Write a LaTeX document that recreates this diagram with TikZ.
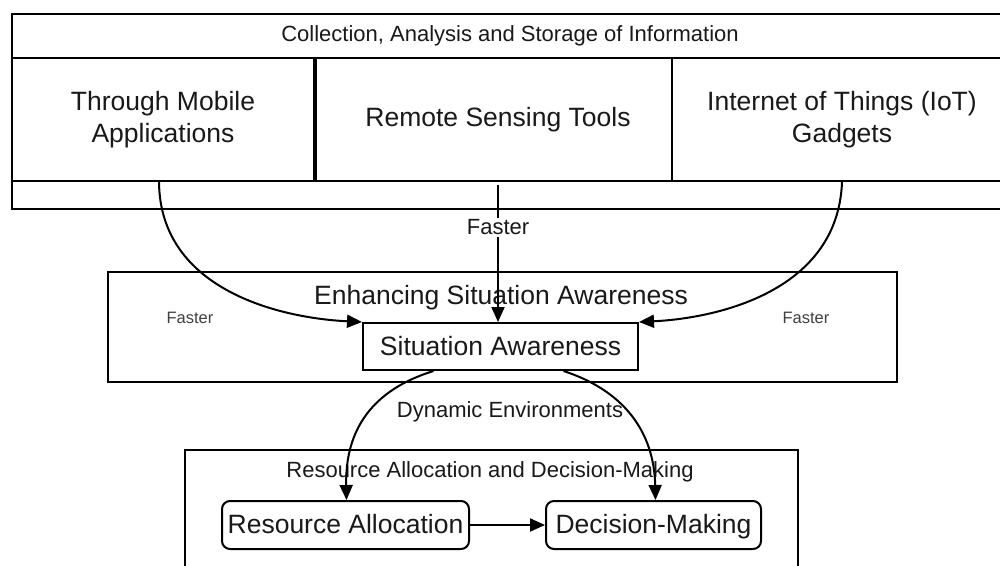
\documentclass[tikz,border=0pt]{standalone}
\usepackage{fontspec}
\setmainfont{Liberation Sans}
\usetikzlibrary{arrows.meta}
\begin{document}
\begin{tikzpicture}[x=1pt,y=-1pt,
  frame/.style={draw, line width=2pt, inner sep=0pt, anchor=north west},
  box/.style={frame, fill=white},
  roundbox/.style={frame, fill=white, rounded corners=8pt},
  big/.style={font=\fontsize{26.5}{32}\selectfont, align=center, text=black!90},
  bigline/.style={big, text height=19pt, text depth=2pt},
  mid/.style={font=\fontsize{22}{26}\selectfont, text=black!90},
  tiny/.style={font=\fontsize{16.5}{20}\selectfont, text=black!75},
  conn/.style={line width=2pt, -{Triangle[length=15pt,width=13pt]}},
]
\clip (0,0) rectangle (1000,565);
\fill[white] (0,0) rectangle (1000,565);

% information gathering
\node[frame, minimum width=1010, minimum height=195] (info) at (11,13) {};
\node[mid] (infotitle) at (510,36) {Collection, Analysis and Storage of Information};
\node[box, big, minimum width=302, minimum height=123] (mobile) at (11,57) {Through Mobile\\Applications};
\node[box, minimum width=357, minimum height=123] (remote) at (315,57) {};
\node[bigline] (remotetext) at (498,118) {Remote Sensing Tools};
\node[box, big, minimum width=340, minimum height=123] (iot) at (671,57) {Internet of Things (IoT)\\Gadgets};

% situation awareness
\node[frame, minimum width=789, minimum height=110] (enh) at (107,271) {};
\node[bigline] (enhtitle) at (501,296) {Enhancing Situation Awareness};
\node[box, bigline, minimum width=275, minimum height=47] (sa) at (362,322) {Situation Awareness};
\node[tiny] (fasterL) at (190,318) {Faster};
\node[tiny] (fasterR) at (806,318) {Faster};

% resources and decisions
\node[frame, minimum width=613, minimum height=200] (res) at (184,449) {};
\node[mid] (restitle) at (490,472) {Resource Allocation and Decision-Making};
\node[roundbox, bigline, minimum width=247, minimum height=48] (ra) at (221,500) {Resource Allocation};
\node[roundbox, bigline, minimum width=215, minimum height=48] (dm) at (545,500) {Decision-Making};

% connectors
\coordinate (rs) at (498,185);
\draw[conn] ([xshift=-4pt]mobile.south) .. controls (160,290) and (280,318) .. (sa.north west);
\draw[conn] (iot.south) .. controls (838,290) and (720,318) .. (sa.north east);
\draw[conn] (rs) -- node[mid, fill=white, inner sep=2pt, pos=0.31] (fasterM) {Faster} (rs |- sa.north);

\draw[conn] ([xshift=-67pt]sa.south) .. controls (372,390) and (345,430) .. ([xshift=1pt]ra.north);
\draw[conn] ([xshift=63pt]sa.south) .. controls (622,390) and (654,430) .. ([xshift=2pt]dm.north);
\node[mid] (dyn) at (510,412) {Dynamic Environments};
\draw[conn] (ra) -- (dm);
\end{tikzpicture}
\end{document}
